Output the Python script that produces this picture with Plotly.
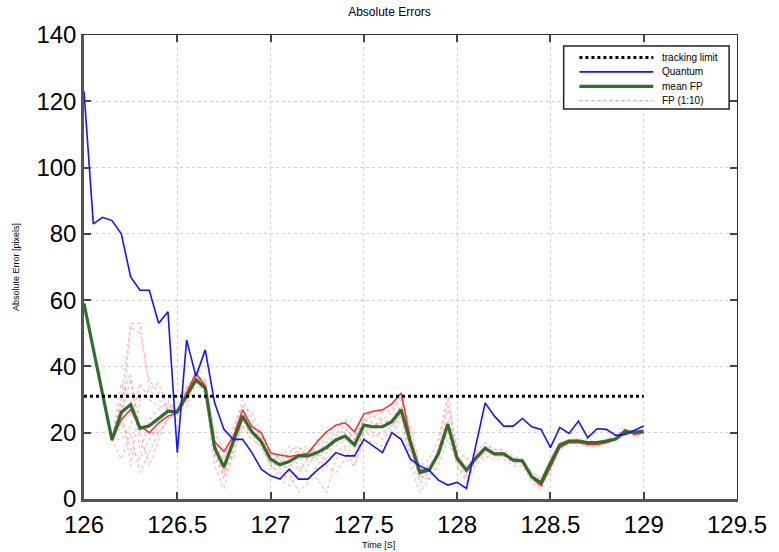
import plotly.graph_objects as go

# Sample times: 126.00 s to 129.00 s in 0.05 s steps
t0, dt, n = 126.0, 0.05, 61
time_s = [round(t0 + dt * i, 2) for i in range(n)]

tracking_limit = 31.0

quantum = [123, 83, 85, 84, 80, 67, 63, 63, 53, 56.5, 14, 48, 37, 45, 29, 21, 18, 18, 14, 9,
           7, 6, 9, 6, 6, 8.7, 11, 14, 13, 13, 18, 16, 14, 20, 18, 12, 10, 8.7, 5.7, 4.2,
           5, 3.2, 16, 29, 25, 22, 22, 24.3, 21.8, 21, 15.5, 21.6, 19.8, 23.5, 18.5, 21.2, 21, 19.2, 19.5, 20.8,
           22]

mean_fp = [59, 45, 31.5, 17.8, 26.2, 28.5, 21.3, 22.1, 24.3, 26.5, 26.3, 31.2, 36, 33.5, 15.5, 9.6, 17.5, 25, 20.3, 17.3,
           12, 10.3, 11.3, 13, 13, 14, 15.6, 17.8, 19, 16.3, 22.3, 21.8, 21.8, 23.3, 26.9, 17, 8, 8.7, 13.8, 22.6,
           12.3, 8.7, 12.3, 15.3, 13.6, 13.6, 11.8, 11.5, 6.7, 4.9, 10.8, 16.3, 17.5, 17.5, 17, 17, 17.5, 18.1, 20.3, 20.1,
           20.5]

# Individual particle-filter runs (run 1 is drawn solid)
fp_run1 = [59, 45, 31.5, 17.8, 24, 27, 22, 20, 23, 25, 26, 32, 38, 34, 17.3, 14.3, 18.8, 26.9, 21.8, 20,
           13.9, 13.3, 12.8, 13.3, 13.8, 17.3, 20.3, 22.3, 23, 20.3, 25.6, 26.5, 26.9, 28.7, 32, 18, 8.7, 9, 14, 22,
           12.5, 8.5, 12, 15, 13.5, 13.5, 11.5, 11.5, 6.5, 4, 9.5, 15.5, 17, 17, 16.5, 16.5, 17, 18, 21, 19.5,
           20]
fp_run2 = [59, 45, 31.5, 17.8, 30, 53, 53, 33, 30, 28, 27, 33, 38, 35, 18, 12, 22, 28, 26, 20,
           14, 12, 10, 12, 14, 16, 18, 20, 22, 18, 24, 25, 26, 27, 31, 15, 6, 8, 14, 28,
           14, 9, 13, 16, 15, 14, 12, 11, 8, 6, 12, 17, 18, 18, 17, 17, 17, 18, 20, 20,
           20]
fp_run3 = [59, 45, 31.5, 17.8, 22, 52, 50, 36, 32, 30, 26, 30, 37, 34, 14, 8, 20, 30, 24, 18,
           12, 10, 14, 16, 12, 13, 15, 18, 20, 17, 21, 22, 23, 24, 28, 12, 5, 7, 16, 30,
           12, 7, 11, 14, 13, 13, 12, 12, 7, 5, 11, 16, 17, 17, 16, 16, 17, 18, 19, 20,
           20]
fp_run4 = [59, 45, 31.5, 17.8, 12, 20, 8, 14, 20, 24, 26, 28, 35, 32, 10, 3, 14, 22, 18, 16,
           10, 8, 6, 10, 8, 6, 2, 12, 15, 10, 18, 17, 16, 19, 25, 10, 2, 6, 10, 18,
           11, 6, 10, 13, 12, 12, 10, 10, 5, 3, 9, 15, 17, 16, 16, 16, 17, 18, 20, 19,
           20]
fp_run5 = [59, 45, 31.5, 17.8, 35, 30, 20, 10, 18, 25, 27, 34, 37, 36, 20, 15, 12, 24, 19, 15,
           11, 6, 4, 8, 12, 18, 20, 22, 24, 20, 26, 25, 24, 26, 30, 22, 10, 12, 18, 32,
           15, 12, 14, 17, 15, 15, 13, 12, 8, 6, 12, 17, 18, 18, 18, 17, 18, 19, 21, 20,
           20]
fp_run6 = [59, 45, 31.5, 17.8, 28, 10, 30, 33, 35, 27, 26, 29, 36, 33, 15, 9, 18, 22, 20, 19,
           14, 12, 8, 2, 5, 10, 14, 16, 18, 15, 20, 19, 20, 22, 27, 18, 8, 10, 13, 20,
           10, 5, 12, 15, 14, 14, 12, 12, 6, 4, 10, 16, 17, 17, 17, 17, 17, 18, 20, 20,
           21]
fp_run7 = [59, 45, 31.5, 17.8, 18, 22, 35, 30, 28, 27, 26, 31, 35, 33, 16, 10, 16, 27, 22, 20,
           13, 11, 16, 14, 15, 12, 10, 8, 12, 10, 22, 20, 18, 21, 26, 14, 7, 6, 12, 24,
           13, 10, 13, 16, 14, 14, 11, 11, 7, 5, 11, 16, 17, 17, 16, 16, 17, 18, 20, 20,
           20]
fp_run8 = [59, 45, 31.5, 17.8, 24, 15, 12, 18, 22, 28, 26, 30, 36, 34, 13, 6, 15, 24, 20, 17,
           10, 14, 12, 15, 16, 14, 12, 14, 16, 13, 20, 22, 24, 22, 25, 16, 9, 8, 13, 21,
           12, 9, 12, 15, 13, 13, 11, 11, 6, 4, 10, 16, 17, 17, 17, 17, 18, 18, 21, 20,
           21]
fp_run9 = [59, 45, 31.5, 17.8, 30, 38, 14, 24, 27, 29, 27, 33, 37, 35, 17, 11, 18, 25, 21, 18,
           12, 9, 10, 11, 10, 14, 17, 19, 21, 18, 24, 23, 22, 24, 28, 20, 9, 10, 14, 22,
           12, 8, 12, 15, 13, 13, 12, 11, 7, 5, 11, 16, 17, 17, 17, 17, 17, 18, 20, 20,
           20]
fp_run10 = [59, 45, 31.5, 17.8, 26, 36, 22, 20, 20, 24, 26, 32, 38, 33, 14, 7, 16, 26, 22, 19,
            11, 10, 12, 13, 12, 13, 15, 17, 18, 16, 22, 21, 22, 23, 26, 17, 7, 9, 13, 22,
            12, 8, 12, 15, 14, 14, 12, 12, 7, 5, 11, 16, 17, 18, 17, 17, 18, 18, 20, 20,
            21]

faint_runs = [fp_run2, fp_run3, fp_run4, fp_run5, fp_run6, fp_run7, fp_run8, fp_run9, fp_run10]

x_ticks = [126, 126.5, 127, 127.5, 128, 128.5, 129, 129.5]
y_ticks = [0, 20, 40, 60, 80, 100, 120, 140]

# Line styles shared by the traces and the legend box
style_limit = dict(color="black", width=3, dash="dot")
style_quantum = dict(color="#1414ff", width=1.6)
style_mean = dict(color="#2f6e2f", width=3.2)
style_faint = dict(color="rgba(255,90,90,0.42)", width=1.2, dash="dot")
style_run1 = dict(color="#ff2a2a", width=1.5)

legend_entries = [
    ("tracking limit", style_limit),
    ("Quantum", style_quantum),
    ("mean FP", style_mean),
    ("FP (1:10)", dict(color="rgba(255,120,120,0.7)", width=1.2, dash="dot")),
]

fig = go.Figure()

for run in faint_runs:
    fig.add_trace(go.Scatter(x=time_s, y=run, mode="lines", name="FP (1:10)",
                             legendgroup="fp", line=style_faint))

fig.add_trace(go.Scatter(x=time_s, y=fp_run1, mode="lines", name="FP (1:10)",
                         legendgroup="fp", line=style_run1))

fig.add_trace(go.Scatter(x=time_s, y=mean_fp, mode="lines", name="mean FP", line=style_mean))

fig.add_trace(go.Scatter(x=time_s, y=quantum, mode="lines", name="Quantum", line=style_quantum))

fig.add_trace(go.Scatter(x=[time_s[0], time_s[-1]], y=[tracking_limit, tracking_limit],
                         mode="lines", name="tracking limit", line=style_limit))

# invisible trace so the mirrored top/right frame axes are drawn
fig.add_trace(go.Scatter(x=[126], y=[0], xaxis="x2", yaxis="y2", mode="markers",
                         marker=dict(opacity=0), hoverinfo="skip"))

# Compact boxed legend in the upper-right corner (paper coordinates)
plot_l, plot_t, plot_w, plot_h = 84, 35, 663, 464


def px_to_paper(px, py):
    return (px - plot_l) / plot_w, 1 - (py - plot_t) / plot_h


shapes = []
annotations = []
bx0, by0 = px_to_paper(571, 46)
bx1, by1 = px_to_paper(739, 109)
shapes.append(dict(type="rect", xref="paper", yref="paper", x0=bx0, y0=by1, x1=bx1, y1=by0,
                   line=dict(color="#222", width=1.5), fillcolor="white", layer="above"))
for k, (label, st) in enumerate(legend_entries):
    row_y = 57.5 + 14.4 * k
    sx0, sy = px_to_paper(587, row_y)
    sx1, _ = px_to_paper(662, row_y)
    shapes.append(dict(type="line", xref="paper", yref="paper", x0=sx0, x1=sx1, y0=sy, y1=sy,
                       line=st, layer="above"))
    tx, _ = px_to_paper(669, row_y)
    annotations.append(dict(text=label, xref="paper", yref="paper", x=tx, y=sy,
                            xanchor="left", yanchor="middle", showarrow=False,
                            font=dict(family="Arial", size=10, color="black")))

annotations += [
    dict(text="Time [S]", xref="paper", yref="paper", x=0.451, y=-0.099,
         xanchor="center", yanchor="middle", showarrow=False,
         font=dict(family="Arial", size=9, color="black")),
    dict(text="Absolute Error [pixels]", xref="paper", yref="paper", x=-0.104, y=0.5,
         xanchor="center", yanchor="middle", textangle=-90, showarrow=False,
         font=dict(family="Arial", size=9, color="black")),
]

axis_font = dict(family="Arial", size=24, color="black")

fig.update_layout(
    width=779, height=552,
    margin=dict(l=84, r=32, t=35, b=53),
    paper_bgcolor="white", plot_bgcolor="white",
    font=dict(family="Arial", color="black"),
    showlegend=False,
    title=dict(text="Absolute Errors", x=0.5, xanchor="center", y=0.978, yanchor="middle",
               font=dict(size=12, family="Arial", color="black")),
    xaxis=dict(
        range=[126, 129.5], tickvals=x_ticks, ticktext=[f"{v:g}" for v in x_ticks],
        showline=True, linewidth=2.5, linecolor="#555",
        ticks="inside", ticklen=7, tickwidth=2, tickcolor="#444",
        showgrid=True, gridcolor="#d2d2d2", griddash="dot", gridwidth=1,
        zeroline=False, tickfont=axis_font, ticklabelstandoff=2,
    ),
    yaxis=dict(
        range=[0, 140], tickvals=y_ticks,
        showline=True, linewidth=2.5, linecolor="#555",
        ticks="inside", ticklen=7, tickwidth=2, tickcolor="#444",
        showgrid=True, gridcolor="#d2d2d2", griddash="dot", gridwidth=1,
        zeroline=False, tickfont=axis_font,
    ),
    xaxis2=dict(
        overlaying="x", side="top", matches="x", anchor="y",
        range=[126, 129.5], tickvals=x_ticks, showticklabels=False,
        showline=True, linewidth=1, linecolor="#333",
        ticks="inside", ticklen=7, tickwidth=1.5, tickcolor="#444",
        showgrid=False, zeroline=False,
    ),
    yaxis2=dict(
        overlaying="y", side="right", matches="y", anchor="x",
        range=[0, 140], tickvals=y_ticks, showticklabels=False,
        showline=True, linewidth=1, linecolor="#333",
        ticks="inside", ticklen=7, tickwidth=1.5, tickcolor="#444",
        showgrid=False, zeroline=False,
    ),
    shapes=shapes,
    annotations=annotations,
)

fig.write_html("out.html")
